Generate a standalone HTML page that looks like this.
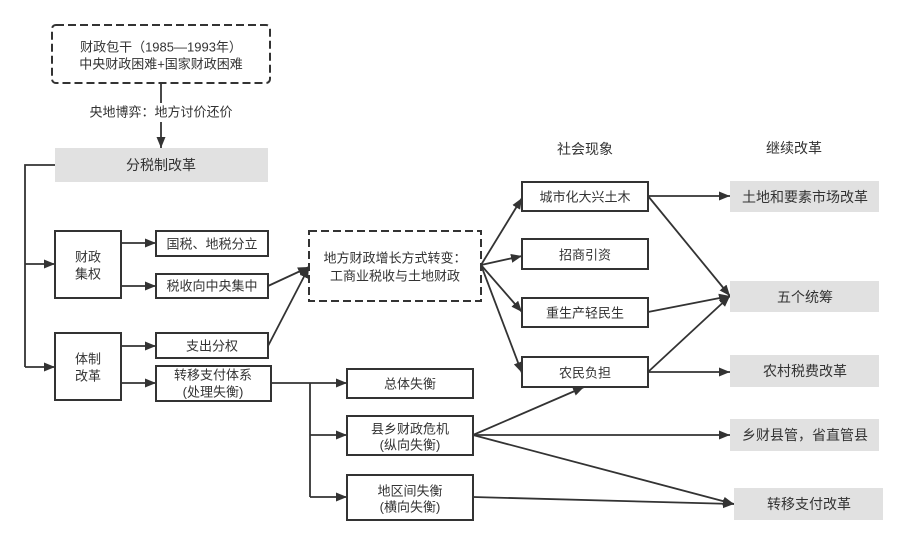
<!DOCTYPE html>
<html><head><meta charset="utf-8"><style>
html,body{margin:0;padding:0;background:#fff;}
svg{display:block;}
text{font-family:"Liberation Sans","Noto Sans CJK SC",sans-serif;fill:#333;}
</style></head><body>
<svg width="908" height="545" viewBox="0 0 908 545" xmlns="http://www.w3.org/2000/svg">
<defs>
<marker id="a" markerUnits="userSpaceOnUse" markerWidth="12" markerHeight="10" refX="11" refY="4.5" orient="auto">
<path d="M0,0 L11,4.5 L0,9 z" fill="#333"/>
</marker>
</defs>
<g stroke="#333" stroke-width="1.8" fill="none">
<!-- top dashed -->
<rect x="52" y="25" width="218" height="58" rx="4" stroke-dasharray="8 4" stroke-width="2"/>
<line x1="161" y1="83" x2="161" y2="148" marker-end="url(#a)"/>
<!-- left trunk -->
<polyline points="55,165 25,165 25,367"/>
<line x1="25" y1="264" x2="55" y2="264" marker-end="url(#a)"/>
<line x1="25" y1="367" x2="55" y2="367" marker-end="url(#a)"/>
<line x1="121" y1="243" x2="156" y2="243" marker-end="url(#a)"/>
<line x1="121" y1="286" x2="156" y2="286" marker-end="url(#a)"/>
<line x1="121" y1="346" x2="156" y2="346" marker-end="url(#a)"/>
<line x1="121" y1="383" x2="156" y2="383" marker-end="url(#a)"/>
<line x1="268" y1="286" x2="309" y2="267" marker-end="url(#a)"/>
<line x1="268" y1="346" x2="309" y2="267" marker-end="url(#a)"/>
<!-- transfer branches -->
<line x1="271" y1="383" x2="310" y2="383"/>
<line x1="310" y1="383" x2="310" y2="497"/>
<line x1="310" y1="383" x2="347" y2="383" marker-end="url(#a)"/>
<line x1="310" y1="435" x2="347" y2="435" marker-end="url(#a)"/>
<line x1="310" y1="497" x2="347" y2="497" marker-end="url(#a)"/>
<!-- from dashed2 -->
<line x1="481" y1="265" x2="522" y2="198" marker-end="url(#a)"/>
<line x1="481" y1="265" x2="522" y2="256" marker-end="url(#a)"/>
<line x1="481" y1="265" x2="522" y2="312" marker-end="url(#a)"/>
<line x1="481" y1="265" x2="522" y2="373" marker-end="url(#a)"/>
<!-- social to reform -->
<line x1="648" y1="196" x2="730" y2="196" marker-end="url(#a)"/>
<line x1="648" y1="196" x2="730" y2="296" marker-end="url(#a)"/>
<line x1="648" y1="312" x2="730" y2="296" marker-end="url(#a)"/>
<line x1="648" y1="372" x2="730" y2="296" marker-end="url(#a)"/>
<line x1="648" y1="372" x2="730" y2="372" marker-end="url(#a)"/>
<!-- county crisis -->
<line x1="473" y1="435" x2="584" y2="387" marker-end="url(#a)"/>
<line x1="473" y1="435" x2="730" y2="435" marker-end="url(#a)"/>
<line x1="473" y1="435" x2="734" y2="504" marker-end="url(#a)"/>
<line x1="473" y1="497" x2="734" y2="504" marker-end="url(#a)"/>
</g>
<!-- label bg -->
<rect x="86" y="103" width="150" height="19" fill="#fff"/>
<!-- gray boxes -->
<g fill="#e1e1e1">
<rect x="55" y="148" width="213" height="34"/>
<rect x="730" y="181" width="149" height="31"/>
<rect x="730" y="281" width="149" height="31"/>
<rect x="730" y="355" width="149" height="32"/>
<rect x="730" y="419" width="149" height="32"/>
<rect x="734" y="488" width="149" height="32"/>
</g>
<!-- solid boxes -->
<g fill="#fff" stroke="#333" stroke-width="2">
<rect x="55" y="231" width="66" height="67"/>
<rect x="55" y="333" width="66" height="67"/>
<rect x="156" y="231" width="112" height="25"/>
<rect x="156" y="274" width="112" height="24"/>
<rect x="156" y="333" width="112" height="25"/>
<rect x="156" y="366" width="115" height="35"/>
<rect x="347" y="369" width="126" height="29"/>
<rect x="347" y="416" width="126" height="39"/>
<rect x="347" y="475" width="126" height="45"/>
<rect x="522" y="182" width="126" height="29"/>
<rect x="522" y="239" width="126" height="30"/>
<rect x="522" y="298" width="126" height="29"/>
<rect x="522" y="357" width="126" height="30"/>
</g>
<rect x="309" y="231" width="172" height="70" fill="#fff" stroke="#333" stroke-width="2" stroke-dasharray="8 4"/>
<g font-size="13" text-anchor="middle" dominant-baseline="central">
<text x="161" y="47">财政包干（1985—1993年）</text>
<text x="161" y="64">中央财政困难+国家财政困难</text>
<text x="161" y="112">央地博弈：地方讨价还价</text>
<text x="88" y="257">财政</text>
<text x="88" y="274">集权</text>
<text x="88" y="359">体制</text>
<text x="88" y="376">改革</text>
<text x="212" y="244">国税、地税分立</text>
<text x="212" y="286">税收向中央集中</text>
<text x="212" y="346">支出分权</text>
<text x="213" y="375">转移支付体系</text>
<text x="213" y="392">(处理失衡)</text>
<text x="410" y="384">总体失衡</text>
<text x="410" y="429">县乡财政危机</text>
<text x="410" y="445">(纵向失衡)</text>
<text x="410" y="491">地区间失衡</text>
<text x="410" y="507">(横向失衡)</text>
<text x="395" y="258">地方财政增长方式转变：</text>
<text x="395" y="276">工商业税收与土地财政</text>
<text x="585" y="197">城市化大兴土木</text>
<text x="585" y="255">招商引资</text>
<text x="585" y="313">重生产轻民生</text>
<text x="585" y="373">农民负担</text>
</g>
<g font-size="14" text-anchor="middle" dominant-baseline="central">
<text x="161" y="165">分税制改革</text>
<text x="585" y="149">社会现象</text>
<text x="794" y="148">继续改革</text>
<text x="805" y="197">土地和要素市场改革</text>
<text x="805" y="297">五个统筹</text>
<text x="805" y="371">农村税费改革</text>
<text x="805" y="435">乡财县管，省直管县</text>
<text x="809" y="504">转移支付改革</text>
</g>
</svg>
</body></html>
